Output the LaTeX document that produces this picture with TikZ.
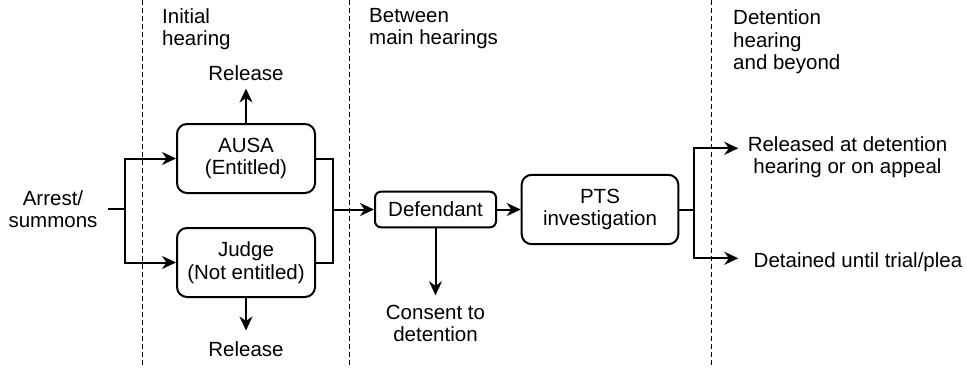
\documentclass[tikz,border=0pt]{standalone}
\usepackage{fontspec}
\setmainfont{Liberation Sans}
\usetikzlibrary{arrows.meta}
\begin{document}
\begin{tikzpicture}[x=1pt,y=-1pt,
  every node/.style={font=\fontsize{20.5}{22.5}\selectfont, align=center},
  box/.style={draw, line width=2pt, rounded corners=10pt, minimum width=138pt, minimum height=69pt, inner sep=0pt},
  conn/.style={line width=2pt},
  arr/.style={conn, -{Stealth[length=14pt,width=13pt,inset=4.5pt]}},
  divider/.style={line width=1.2pt, dash pattern=on 4.5pt off 3.5pt},
  lbl/.style={inner sep=0pt},
  head/.style={inner sep=0pt, align=left, anchor=north west}]
\useasboundingbox (0,0) rectangle (967,367);

% dividers
\draw[divider] (142.5,0) -- (142.5,367);
\draw[divider] (349.5,0) -- (349.5,367);
\draw[divider] (711.5,0) -- (711.5,367);

% headings
\node[head] (h1) at (162,8) {Initial\\hearing};
\node[head] (h2) at (369,8) {Between\\main hearings};
\node[head] (h3) at (733,9.5) {Detention\\hearing\\and beyond};

% nodes
\node[lbl, outer sep=11pt] (arrest) at (53,209) {Arrest/\\summons};
\node[box] (ausa) at (246,158.5) {AUSA\\(Entitled)};
\node[box] (judge) at (246,262.5) {Judge\\(Not entitled)};
\node[lbl, outer sep=8pt] (rel1) at (246,73) {Release};
\node[lbl, outer sep=11pt] (rel2) at (246,349) {Release};
\node[box, rounded corners=6pt, minimum width=121pt, minimum height=35.6pt] (def) at (435.5,209.5) {Defendant};
\node[box, minimum width=156.6pt, minimum height=69.4pt] (pts) at (600,209.5) {PTS\\investigation};
\node[lbl, outer sep=9.5pt] (consent) at (435.5,323.3) {Consent to\\detention};
\node[lbl] (released) at (847.5,157.4) {Released at detention\\hearing or on appeal};
\node[lbl] (detained) at (858,262) {Detained until trial/plea};

% coordinates
\coordinate (s1) at (125,209);
\coordinate (m1) at (333,209.5);
\coordinate (s2) at (694.3,209.5);
\coordinate (r1) at (738.3,148.3);
\coordinate (d1) at (738.3,258.3);

% connectors
\draw[conn] (arrest.east) -- (s1);
\draw[arr] (s1) |- (ausa.west);
\draw[arr] (s1) |- (judge.west);
\draw[arr] (ausa) -- (rel1);
\draw[arr] (judge) -- (rel2);
\draw[conn] (ausa.east) -| (m1);
\draw[conn] (judge.east) -| (m1);
\draw[arr] (m1) -- (def);
\draw[arr] (def) -- (pts);
\draw[arr] (def) -- (consent);
\draw[conn] (pts) -- (s2);
\draw[arr] (s2) |- (r1);
\draw[arr] (s2) |- (d1);
\end{tikzpicture}
\end{document}
